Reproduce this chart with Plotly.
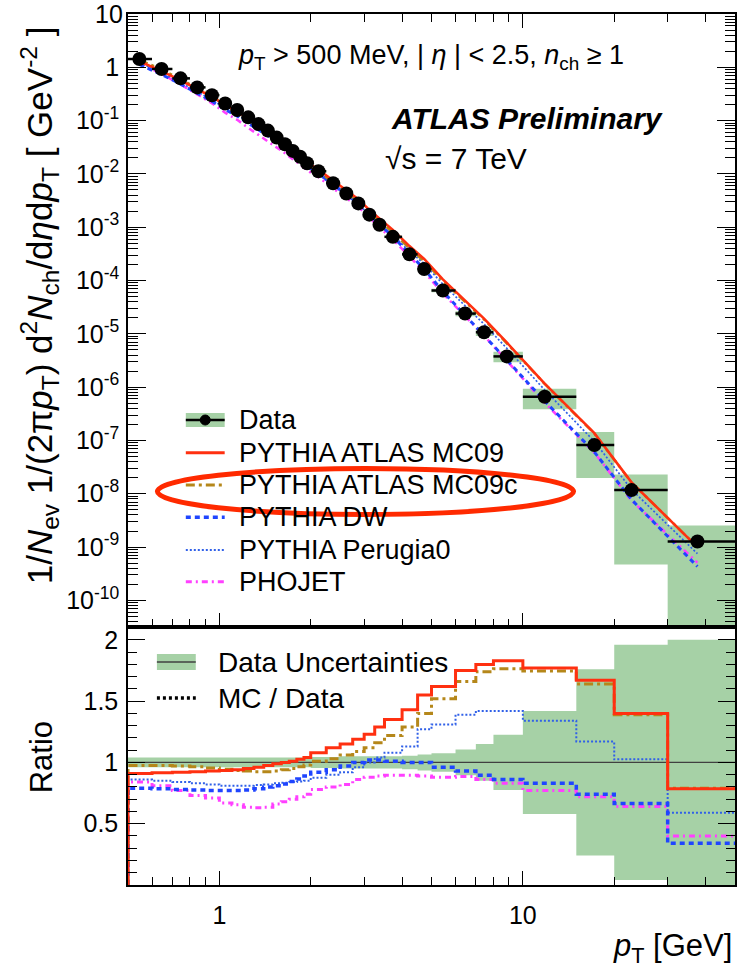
import math
import plotly.graph_objects as go

# ---------------- data ----------------
edges = [0.5, 0.6, 0.7, 0.8, 0.9, 1.0, 1.1, 1.2, 1.3, 1.4, 1.5, 1.6, 1.7, 1.8, 1.9, 2.0,
         2.25, 2.5, 2.75, 3.0, 3.25, 3.5, 4.0, 4.5, 5.0, 6.0, 7.0, 8.0, 10.0, 15.0, 20.0, 30.0, 50.0]
pt_mean = [0.545, 0.645, 0.745, 0.845, 0.945, 1.045, 1.145, 1.245, 1.345, 1.445, 1.545, 1.645,
           1.745, 1.845, 1.945, 2.12, 2.37, 2.62, 2.87, 3.12, 3.37, 3.73, 4.23, 4.73, 5.45, 6.45,
           7.45, 8.85, 11.8, 17.2, 22.8, 37.6]
data_val = [1.43, 0.93, 0.62, 0.42, 0.30, 0.21, 0.158, 0.115, 0.086, 0.065, 0.048, 0.036, 0.027,
            0.021, 0.0158, 0.0112, 0.0067, 0.0043, 0.0028, 0.00172, 0.00111, 6.6e-4, 3.1e-4,
            1.64e-4, 6.5e-5, 2.4e-5, 1.07e-5, 3.77e-6, 6.6e-7, 8.2e-8, 1.17e-8, 1.27e-9]
data_relerr = [0.04] * 15 + [0.045, 0.045, 0.05, 0.05, 0.05, 0.05, 0.05, 0.055, 0.065, 0.075,
                             0.105, 0.15, 0.225, 0.42, 0.76, 0.96, 1.0]

ratio_mc09 = [0.91, 0.915, 0.92, 0.925, 0.93, 0.935, 0.94, 0.95, 0.96, 0.975, 0.99, 1.0, 1.01,
              1.025, 1.04, 1.08, 1.12, 1.15, 1.19, 1.23, 1.29, 1.35, 1.43, 1.55, 1.62, 1.75, 1.80,
              1.83, 1.77, 1.67, 1.40, 0.785]
ratio_mc09c = [0.975, 0.975, 0.97, 0.965, 0.955, 0.945, 0.935, 0.93, 0.925, 0.925, 0.93, 0.94,
               0.95, 0.965, 0.98, 1.01, 1.03, 1.06, 1.09, 1.12, 1.16, 1.22, 1.29, 1.40, 1.52, 1.66,
               1.74, 1.765, 1.745, 1.64, 1.39, 0.79]
ratio_dw = [0.79, 0.785, 0.78, 0.775, 0.77, 0.77, 0.77, 0.775, 0.785, 0.80, 0.81, 0.825, 0.845,
            0.865, 0.89, 0.92, 0.94, 0.97, 1.0, 1.02, 1.02, 1.01, 1.0, 1.0, 0.96, 0.93, 0.895,
            0.86, 0.83, 0.74, 0.665, 0.34]
ratio_perugia0 = [0.86, 0.85, 0.84, 0.83, 0.82, 0.81, 0.81, 0.81, 0.815, 0.82, 0.83, 0.835, 0.84,
                  0.845, 0.85, 0.875, 0.90, 0.92, 0.96, 1.0, 1.04, 1.08, 1.13, 1.27, 1.31, 1.39,
                  1.42, 1.42, 1.34, 1.17, 1.025, 0.59]
ratio_phojet = [0.84, 0.81, 0.77, 0.73, 0.71, 0.67, 0.655, 0.635, 0.63, 0.635, 0.66, 0.68, 0.70,
                0.72, 0.74, 0.78, 0.80, 0.82, 0.86, 0.88, 0.89, 0.895, 0.895, 0.89, 0.88, 0.885,
                0.86, 0.83, 0.77, 0.72, 0.64, 0.40]

top_tickvals = [10.0 ** k for k in range(-10, 2)]
top_ticktext = ["10<sup>%d</sup>" % k if k not in (0, 1) else ("1" if k == 0 else "10")
                for k in range(-10, 2)]
ratio_tickvals = [0.5, 1, 1.5, 2]
ratio_ticktext = ["0.5", "1", "1.5", "2"]
x_tickvals = [1, 10]
x_ticktext = ["1", "10"]

# ---------------- styles ----------------
W, H = 740, 971
L_PX, R_PX, T_PX, B_PX, MID_PX = 128, 737, 14, 885, 627
FONT = "Liberation Sans, Arial, Helvetica, sans-serif"
GREEN = "#a6d1a6"
RED = "#ff3010"
BROWN = "#b5871a"
BLUE = "#1f45ff"
BLUE2 = "#3060e8"
MAGENTA = "#ff40ff"

mc_series = [
    ("PYTHIA ATLAS MC09", ratio_mc09, RED, "solid", 3),
    ("PYTHIA ATLAS MC09c", ratio_mc09c, BROWN, "9px,4px,3px,4px", 3),
    ("PYTHIA DW", ratio_dw, BLUE, "5px,4px", 3.5),
    ("PYTHIA Perugia0", ratio_perugia0, BLUE2, "2px,2px", 2),
    ("PHOJET", ratio_phojet, MAGENTA, "6px,4px,2px,4px", 3),
]


def fx(px):
    return (px - L_PX) / (R_PX - L_PX)


def fy(py):
    return (B_PX - py) / (B_PX - T_PX)


YLOG_LO, YLOG_HI = -10.5, 1.0
ymin_clip = 10 ** (YLOG_LO - 1)

fig = go.Figure()

# ---- top panel: uncertainty boxes
bx, by = [], []
for i in range(len(data_val)):
    lo, hi = edges[i], edges[i + 1]
    up = data_val[i] * (1 + data_relerr[i])
    dn = max(data_val[i] * (1 - data_relerr[i]), ymin_clip)
    bx += [lo, hi, hi, lo, lo, None]
    by += [dn, dn, up, up, dn, None]
fig.add_trace(go.Scatter(x=bx, y=by, mode="none", fill="toself", fillcolor=GREEN,
                         xaxis="x", yaxis="y", showlegend=False, hoverinfo="skip"))

# ---- top panel: MC curves
for name, ratio, col, dash, w in mc_series[::-1]:
    fig.add_trace(go.Scatter(x=pt_mean, y=[d * r for d, r in zip(data_val, ratio)],
                             mode="lines", line=dict(color=col, dash=dash, width=w * 0.85),
                             xaxis="x", yaxis="y", showlegend=False, name=name))

# ---- top panel: data points
fig.add_trace(go.Scatter(
    x=pt_mean, y=data_val, mode="markers",
    marker=dict(color="black", size=14),
    error_x=dict(type="data", symmetric=False,
                 array=[edges[i + 1] - pt_mean[i] for i in range(len(pt_mean))],
                 arrayminus=[pt_mean[i] - edges[i] for i in range(len(pt_mean))],
                 color="black", thickness=2.5, width=0),
    xaxis="x", yaxis="y", showlegend=False, name="Data"))

# ---- ratio panel: data uncertainty band
up_x, up_y, dn_y = [], [], []
for i in range(len(data_val)):
    up_x += [edges[i], edges[i + 1]]
    up_y += [1 + data_relerr[i]] * 2
    dn_y += [max(1 - data_relerr[i], 0.0)] * 2
fig.add_trace(go.Scatter(x=up_x + up_x[::-1], y=up_y + dn_y[::-1], mode="none", fill="toself",
                         fillcolor=GREEN, xaxis="x2", yaxis="y2", showlegend=False,
                         hoverinfo="skip"))
fig.add_trace(go.Scatter(x=[edges[0], edges[-1]], y=[1, 1], mode="lines",
                         line=dict(color="#404040", width=1.2), xaxis="x2", yaxis="y2",
                         showlegend=False))

# ---- ratio panel: MC histograms
for name, ratio, col, dash, w in mc_series[::-1]:
    xs = [edges[0]] + list(edges)
    ys = [0.0] + list(ratio) + [ratio[-1]]
    fig.add_trace(go.Scatter(x=xs, y=ys, mode="lines", line=dict(color=col, dash=dash, width=w,
                                                                 shape="hv"),
                             xaxis="x2", yaxis="y2", showlegend=False, name=name))

# ---------------- axes ----------------
minor_x = [0.6, 0.7, 0.8, 0.9] + [m for m in range(2, 10)] + [20, 30, 40]
minor_y = [m * 10.0 ** k for k in range(-11, 1) for m in range(2, 10)]
minor_y = [v for v in minor_y if YLOG_LO <= math.log10(v) <= YLOG_HI]
xr = [math.log10(edges[0]), math.log10(edges[-1])]
split = fy(MID_PX)

axis_common = dict(showline=True, linecolor="black", linewidth=1.5, showgrid=False,
                   zeroline=False, ticks="inside", tickcolor="black", tickwidth=1.2,
                   tickfont=dict(family=FONT, size=25, color="black"))

# the top-most decade label is drawn as an annotation (plotly drops labels on the range edge)
top_ticktext_axis = [t if v < 10 else "" for v, t in zip(top_tickvals, top_ticktext)]

fig.update_layout(
    width=W, height=H,
    margin=dict(l=L_PX, r=W - R_PX, t=T_PX, b=H - B_PX, pad=0),
    paper_bgcolor="white", plot_bgcolor="white",
    showlegend=False,
    xaxis=dict(type="log", range=xr, domain=[0, 1], anchor="y", tickvals=x_tickvals,
               showticklabels=False, ticklen=14, mirror="allticks",
               minor=dict(tickvals=minor_x, ticks="inside", ticklen=8, tickcolor="black",
                          tickwidth=1.2, showgrid=False),
               **axis_common),
    yaxis=dict(type="log", range=[YLOG_LO, YLOG_HI], domain=[split, 1], anchor="x",
               tickvals=top_tickvals, ticktext=top_ticktext_axis, ticklen=18,
               mirror="allticks", ticklabelstandoff=2,
               minor=dict(tickvals=minor_y, ticks="inside", ticklen=10, tickcolor="black",
                          tickwidth=1.2, showgrid=False),
               **axis_common),
    xaxis2=dict(type="log", range=xr, domain=[0, 1], anchor="y2", tickvals=x_tickvals,
                ticktext=x_ticktext, ticklen=14, mirror=True, ticklabelstandoff=7,
                minor=dict(tickvals=minor_x, ticks="inside", ticklen=8, tickcolor="black",
                           tickwidth=1.2, showgrid=False),
                **axis_common),
    yaxis2=dict(range=[0.0, 2.105], domain=[0, split], anchor="x2", tickvals=ratio_tickvals,
                ticktext=ratio_ticktext, ticklen=17, mirror="allticks", ticklabelstandoff=3,
                minor=dict(dtick=0.1, tick0=0, ticks="inside", ticklen=9, tickcolor="black",
                           tickwidth=1.2, showgrid=False),
                **axis_common),
)

# ---------------- text ----------------
def ann(text, x, y, size, xanchor="left", yanchor="middle", angle=0):
    fig.add_annotation(text=text, x=fx(x), y=fy(y), xref="paper", yref="paper",
                       xanchor=xanchor, yanchor=yanchor, showarrow=False, textangle=angle,
                       font=dict(family=FONT, size=size, color="black"))


# top decade label
fig.add_annotation(text=top_ticktext[-1], x=0, xref="paper", xanchor="right", xshift=-3,
                   y=math.log10(top_tickvals[-1]), yref="y", yanchor="middle", showarrow=False,
                   font=dict(family=FONT, size=25, color="black"))

ann("<i>p</i><sub>T</sub> > 500 MeV, | <i>η</i> | < 2.5, <i>n</i><sub>ch</sub> ≥ 1", 236, 57, 27)
ann("<b><i>ATLAS Preliminary</i></b>", 390, 119, 30)
ann("√s = 7 TeV", 384, 158, 30)
ann("1/<i>N</i><sub>ev</sub> 1/(2π<i>p</i><sub>T</sub>) d<sup>2</sup><i>N</i><sub>ch</sub>"
    "/d<i>η</i>d<i>p</i><sub>T</sub> [ GeV<sup>-2</sup> ]", 40, 305, 35, xanchor="center",
    angle=-90)
ann("Ratio", 41, 757, 31, xanchor="center", angle=-90)
ann("<i>p</i><sub>T</sub> [GeV]", 736, 948, 31, xanchor="right")

# ---------------- legends (drawn manually) ----------------
leg_x0, leg_x1, leg_tx = 186, 225, 237
leg_y = [420, 452.7, 485, 517.3, 550, 581.7]
fig.add_shape(type="rect", xref="paper", yref="paper", x0=fx(leg_x0), x1=fx(leg_x1),
              y0=fy(leg_y[0] + 7), y1=fy(leg_y[0] - 7), fillcolor=GREEN, line_width=0)
fig.add_shape(type="line", xref="paper", yref="paper", x0=fx(leg_x0), x1=fx(leg_x1),
              y0=fy(leg_y[0]), y1=fy(leg_y[0]), line=dict(color="black", width=2.5))
fig.add_shape(type="circle", xref="paper", yref="paper", x0=fx(205.5 - 5), x1=fx(205.5 + 5),
              y0=fy(leg_y[0] + 5), y1=fy(leg_y[0] - 5), fillcolor="black",
              line=dict(color="black", width=1))
ann("Data", leg_tx, leg_y[0], 27)
for (name, ratio, col, dash, w), yy in zip(mc_series, leg_y[1:]):
    fig.add_shape(type="line", xref="paper", yref="paper", x0=fx(leg_x0), x1=fx(leg_x1),
                  y0=fy(yy), y1=fy(yy), line=dict(color=col, dash=dash, width=w))
    ann(name, leg_tx, yy, 27)

fig.add_shape(type="rect", xref="paper", yref="paper", x0=fx(157), x1=fx(196),
              y0=fy(670), y1=fy(654), fillcolor=GREEN, line_width=0)
fig.add_shape(type="line", xref="paper", yref="paper", x0=fx(157), x1=fx(196),
              y0=fy(662), y1=fy(662), line=dict(color="#404040", width=1.5))
ann("Data Uncertainties", 216, 662, 28)
fig.add_shape(type="line", xref="paper", yref="paper", x0=fx(157), x1=fx(196),
              y0=fy(698), y1=fy(698), line=dict(color="black", dash="3px,3px", width=3.5))
ann("MC / Data", 216, 698, 28)

# red highlight ellipse
fig.add_shape(type="circle", xref="paper", yref="paper", x0=fx(157.5), x1=fx(575),
              y0=fy(514.5), y1=fy(468.5), line=dict(color="#ff2a00", width=5))

fig.write_html("out.html")
